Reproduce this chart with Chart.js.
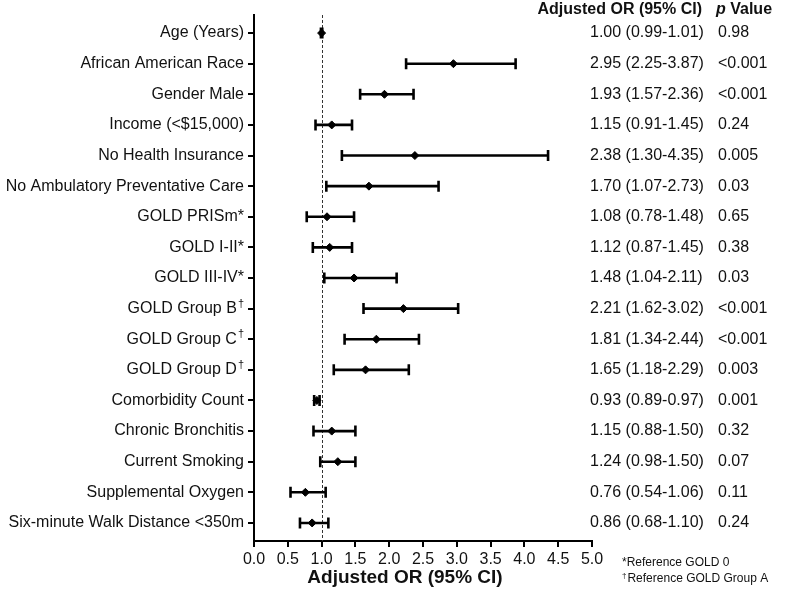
<!DOCTYPE html>
<html>
<head>
<meta charset="utf-8">
<script src="https://cdn.jsdelivr.net/npm/chart.js@4"></script>
<style>
html,body{margin:0;padding:0;background:#fff;}
canvas{display:block;}
</style>
</head>
<body>
<canvas id="c" width="800" height="590"></canvas>
<script>
const labels = ["Age (Years)", "African American Race", "Gender Male", "Income (<$15,000)", "No Health Insurance", "No Ambulatory Preventative Care", "GOLD PRISm*", "GOLD I-II*", "GOLD III-IV*", "GOLD Group B\u2020", "GOLD Group C\u2020", "GOLD Group D\u2020", "Comorbidity Count", "Chronic Bronchitis", "Current Smoking", "Supplemental Oxygen", "Six-minute Walk Distance <350m"];
const oddsRatio = [1.00, 2.95, 1.93, 1.15, 2.38, 1.70, 1.08, 1.12, 1.48, 2.21, 1.81, 1.65, 0.93, 1.15, 1.24, 0.76, 0.86];
const ciLow = [0.99, 2.25, 1.57, 0.91, 1.30, 1.07, 0.78, 0.87, 1.04, 1.62, 1.34, 1.18, 0.89, 0.88, 0.98, 0.54, 0.68];
const ciHigh = [1.01, 3.87, 2.36, 1.45, 4.35, 2.73, 1.48, 1.45, 2.11, 3.02, 2.44, 2.29, 0.97, 1.50, 1.50, 1.06, 1.10];
const pValues = ["0.98", "<0.001", "<0.001", "0.24", "0.005", "0.03", "0.65", "0.38", "0.03", "<0.001", "<0.001", "0.003", "0.001", "0.32", "0.07", "0.11", "0.24"];
const xTicks = [0, 0.5, 1, 1.5, 2, 2.5, 3, 3.5, 4, 4.5, 5];
const axisTitle = "Adjusted OR (95% CI)";
const colHeader1 = "Adjusted OR (95% CI)";
const footnotes = ["*Reference GOLD 0", "\u2020Reference GOLD Group A"];

const FONT = "'Liberation Sans', Arial, Helvetica, sans-serif";
const TXT = "#111";

function fmt(v){ return v.toFixed(2); }

const forestPlugin = {
  id: 'forest',
  beforeDatasetsDraw(chart) {
    const ctx = chart.ctx, xs = chart.scales.x, ys = chart.scales.y, a = chart.chartArea;
    // reference line at OR = 1
    ctx.save();
    ctx.strokeStyle = '#333';
    ctx.lineWidth = 1;
    ctx.setLineDash([3, 2]);
    const x1 = Math.round(xs.getPixelForValue(1)) + 0.5;
    ctx.beginPath();
    ctx.moveTo(x1, a.top);
    ctx.lineTo(x1, a.bottom);
    ctx.stroke();
    ctx.setLineDash([]);
    // CI bars
    ctx.strokeStyle = '#000';
    ctx.lineWidth = 2.6;
    ctx.lineCap = 'butt';
    for (let i = 0; i < labels.length; i++) {
      const y = ys.getPixelForValue(i);
      const xl = xs.getPixelForValue(ciLow[i]);
      const xh = xs.getPixelForValue(ciHigh[i]);
      ctx.beginPath();
      ctx.moveTo(xl, y); ctx.lineTo(xh, y);
      ctx.moveTo(xl, y - 5.5); ctx.lineTo(xl, y + 5.5);
      ctx.moveTo(xh, y - 5.5); ctx.lineTo(xh, y + 5.5);
      ctx.stroke();
    }
    ctx.restore();
  },
  afterDraw(chart) {
    const ctx = chart.ctx, xs = chart.scales.x, ys = chart.scales.y, a = chart.chartArea;
    ctx.save();
    ctx.fillStyle = TXT;
    ctx.textBaseline = 'middle';
    // row labels with superscript daggers
    for (let i = 0; i < labels.length; i++) {
      const y = ys.getPixelForValue(i);
      let main = labels[i], sup = '';
      if (main.endsWith('\u2020')) { main = main.slice(0, -1); sup = '\u2020'; }
      ctx.font = '16px ' + FONT;
      const wMain = ctx.measureText(main).width;
      let wSup = 0;
      if (sup) { ctx.font = '11px ' + FONT; wSup = ctx.measureText(sup).width + 1; }
      const right = a.left - 10;
      ctx.font = '16px ' + FONT;
      ctx.textAlign = 'left';
      ctx.fillText(main, right - wSup - wMain, y);
      if (sup) { ctx.font = '11px ' + FONT; ctx.fillText(sup, right - wSup + 1, y - 5); }
      // OR column
      ctx.font = '16px ' + FONT;
      ctx.textAlign = 'left';
      ctx.fillText(fmt(oddsRatio[i]) + ' (' + fmt(ciLow[i]) + '-' + fmt(ciHigh[i]) + ')', 590, y);
      ctx.fillText(pValues[i], 718, y);
    }
    // headers
    ctx.font = 'bold 16px ' + FONT;
    ctx.textAlign = 'right';
    ctx.fillText(colHeader1, 702, 10);
    ctx.textAlign = 'left';
    ctx.font = 'italic bold 16px ' + FONT;
    ctx.fillText('p', 716, 10);
    const wp = ctx.measureText('p ').width;
    ctx.font = 'bold 16px ' + FONT;
    ctx.fillText('Value', 716 + wp, 10);
    // axis title
    ctx.font = 'bold 19px ' + FONT;
    ctx.textAlign = 'center';
    ctx.fillText(axisTitle, 405, 578);
    // footnotes
    ctx.textAlign = 'left';
    ctx.font = '12px ' + FONT;
    ctx.fillText(footnotes[0], 622, 563);
    ctx.font = '8px ' + FONT;
    ctx.fillText(footnotes[1].charAt(0), 622, 576);
    const wd = ctx.measureText(footnotes[1].charAt(0)).width;
    ctx.font = '12px ' + FONT;
    ctx.fillText(footnotes[1].slice(1), 622 + wd + 1, 579);
    ctx.restore();
  }
};

new Chart(document.getElementById('c'), {
  type: 'scatter',
  data: {
    datasets: [{
      data: oddsRatio.map((v, i) => ({ x: v, y: i })),
      pointStyle: 'rectRot',
      pointRadius: 4,
      pointHoverRadius: 4,
      backgroundColor: '#000',
      borderColor: '#000',
      borderWidth: 1
    }]
  },
  options: {
    responsive: false,
    animation: false,
    devicePixelRatio: 1,
    layout: { padding: { left: 0, right: 208, top: 15, bottom: 0 } },
    plugins: { legend: { display: false }, tooltip: { enabled: false }, title: { display: false } },
    scales: {
      x: {
        type: 'linear',
        min: 0, max: 5,
        afterBuildTicks: (s) => { s.ticks = xTicks.map(v => ({ value: v })); },
        afterFit: (s) => { s.height = 49; },
        border: { display: true, color: '#000', width: 2 },
        grid: { drawOnChartArea: false, drawTicks: true, tickLength: 6, color: '#000', lineWidth: 2 },
        ticks: {
          color: TXT, padding: 3, maxRotation: 0, autoSkip: false,
          font: { family: FONT, size: 16 },
          callback: (v) => Number(v).toFixed(1)
        }
      },
      y: {
        type: 'linear',
        reverse: true,
        min: -0.59, max: 16.59,
        afterBuildTicks: (s) => { s.ticks = labels.map((_, i) => ({ value: i })); },
        afterFit: (s) => { s.width = 254; },
        border: { display: true, color: '#000', width: 2 },
        grid: { drawOnChartArea: false, drawTicks: true, tickLength: 6, color: '#000', lineWidth: 2 },
        ticks: { display: false }
      }
    }
  },
  plugins: [forestPlugin]
});
</script>
</body>
</html>
